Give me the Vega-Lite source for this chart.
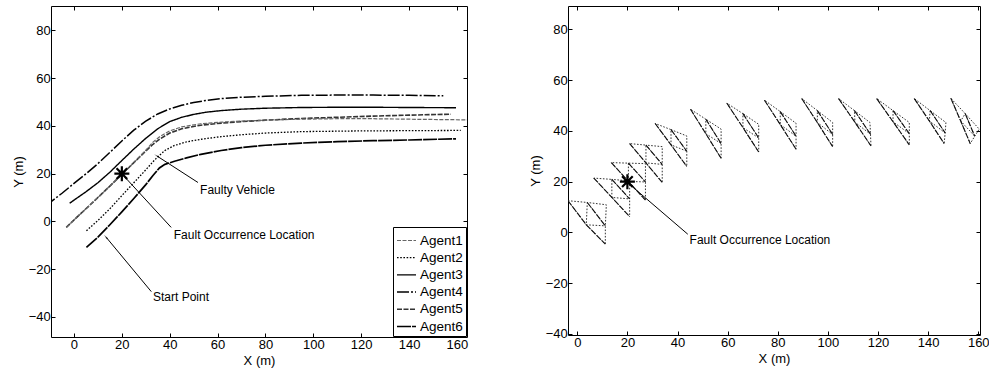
{
  "$schema": "https://vega.github.io/schema/vega-lite/v6.json",
  "autosize": {"type": "pad"},
  "padding": {"left": 11, "top": 5, "right": 0, "bottom": 0},
  "background": "white",
  "spacing": 101,
  "bounds": "flush",
  "resolve": {"legend": {"color": "independent", "strokeDash": "independent", "strokeWidth": "independent"}},
  "config": {
    "font": "Liberation Sans",
    "view": {"stroke": "#000", "strokeWidth": 1},
    "axis": {"grid": false, "domain": false, "ticks": true, "tickColor": "#000", "tickSize": -4, "labelFont": "Liberation Sans", "labelFontSize": 13, "labelColor": "#000", "labelFlush": false, "labelOverlap": false, "titleFont": "Liberation Sans", "titleFontSize": 13, "titleFontWeight": "normal", "titleColor": "#000"},
    "axisX": {"labelPadding": 5, "titlePadding": 3},
    "axisY": {"labelPadding": 4.7, "titlePadding": 3},
    "legend": {"strokeColor": "#000", "fillColor": "#fff", "padding": 3, "symbolType": "stroke", "symbolSize": 361, "labelFont": "Liberation Sans", "labelFontSize": 13.5, "labelColor": "#000", "rowPadding": 0.2, "labelOffset": 3}
  },
  "datasets": {
    "agents": [
      {"a":"Agent4","x":-12,"y":6.3},{"a":"Agent4","x":-10,"y":7.9},{"a":"Agent4","x":-5,"y":11.8},{"a":"Agent4","x":0,"y":15.9},{"a":"Agent4","x":5,"y":19.9},{"a":"Agent4","x":10,"y":24.2},{"a":"Agent4","x":15,"y":28.9},{"a":"Agent4","x":20,"y":33.7},{"a":"Agent4","x":25,"y":38.2},{"a":"Agent4","x":30,"y":42},{"a":"Agent4","x":35,"y":45},{"a":"Agent4","x":40,"y":47.1},{"a":"Agent4","x":45,"y":48.6},{"a":"Agent4","x":50,"y":49.8},{"a":"Agent4","x":55,"y":50.6},{"a":"Agent4","x":61.5,"y":51.4},{"a":"Agent4","x":70,"y":52},{"a":"Agent4","x":80,"y":52.4},{"a":"Agent4","x":95,"y":52.8},{"a":"Agent4","x":110,"y":52.9},{"a":"Agent4","x":125,"y":52.9},{"a":"Agent4","x":140,"y":52.8},{"a":"Agent4","x":154.3,"y":52.6},
      {"a":"Agent3","x":-1.8,"y":7.6},{"a":"Agent3","x":0,"y":8.9},{"a":"Agent3","x":5,"y":12.4},{"a":"Agent3","x":10,"y":16.2},{"a":"Agent3","x":15,"y":20.6},{"a":"Agent3","x":20,"y":25.5},{"a":"Agent3","x":25,"y":30.3},{"a":"Agent3","x":30,"y":34.8},{"a":"Agent3","x":35,"y":38.8},{"a":"Agent3","x":40,"y":41.8},{"a":"Agent3","x":45,"y":43.6},{"a":"Agent3","x":50,"y":44.8},{"a":"Agent3","x":55,"y":45.7},{"a":"Agent3","x":61.5,"y":46.4},{"a":"Agent3","x":70,"y":47},{"a":"Agent3","x":80,"y":47.4},{"a":"Agent3","x":95,"y":47.7},{"a":"Agent3","x":110,"y":47.8},{"a":"Agent3","x":125,"y":47.8},{"a":"Agent3","x":140,"y":47.7},{"a":"Agent3","x":159.6,"y":47.6},
      {"a":"Agent5","x":-3.2,"y":-2.5},{"a":"Agent5","x":0,"y":0.6},{"a":"Agent5","x":5,"y":5.3},{"a":"Agent5","x":10,"y":10},{"a":"Agent5","x":15,"y":14.8},{"a":"Agent5","x":20,"y":19.7},{"a":"Agent5","x":25,"y":24.6},{"a":"Agent5","x":30,"y":29.5},{"a":"Agent5","x":33,"y":32.3},{"a":"Agent5","x":36,"y":34.6},{"a":"Agent5","x":40,"y":37},{"a":"Agent5","x":45,"y":38.8},{"a":"Agent5","x":53,"y":40.3},{"a":"Agent5","x":62,"y":41.2},{"a":"Agent5","x":70,"y":41.8},{"a":"Agent5","x":80,"y":42.4},{"a":"Agent5","x":95,"y":43.1},{"a":"Agent5","x":110,"y":43.6},{"a":"Agent5","x":125,"y":44.1},{"a":"Agent5","x":140,"y":44.5},{"a":"Agent5","x":157.5,"y":44.9},
      {"a":"Agent1","x":-3.2,"y":-2.5},{"a":"Agent1","x":0,"y":0.6},{"a":"Agent1","x":5,"y":5.3},{"a":"Agent1","x":10,"y":10},{"a":"Agent1","x":15,"y":14.8},{"a":"Agent1","x":20,"y":19.7},{"a":"Agent1","x":25,"y":24.6},{"a":"Agent1","x":30,"y":29.8},{"a":"Agent1","x":33,"y":33.2},{"a":"Agent1","x":36,"y":35.6},{"a":"Agent1","x":40,"y":37.9},{"a":"Agent1","x":45,"y":39.6},{"a":"Agent1","x":53,"y":40.9},{"a":"Agent1","x":62,"y":41.6},{"a":"Agent1","x":70,"y":42},{"a":"Agent1","x":80,"y":42.4},{"a":"Agent1","x":95,"y":42.8},{"a":"Agent1","x":110,"y":43},{"a":"Agent1","x":125,"y":43},{"a":"Agent1","x":140,"y":42.8},{"a":"Agent1","x":166,"y":42.5},
      {"a":"Agent2","x":5.2,"y":-3.9},{"a":"Agent2","x":10,"y":0.4},{"a":"Agent2","x":15,"y":5.3},{"a":"Agent2","x":20,"y":10.8},{"a":"Agent2","x":25,"y":16.2},{"a":"Agent2","x":30,"y":21.6},{"a":"Agent2","x":33,"y":25},{"a":"Agent2","x":35.5,"y":27.5},{"a":"Agent2","x":38,"y":29.7},{"a":"Agent2","x":42,"y":31.8},{"a":"Agent2","x":47,"y":33.3},{"a":"Agent2","x":53,"y":34.4},{"a":"Agent2","x":61.5,"y":35.5},{"a":"Agent2","x":70,"y":36.3},{"a":"Agent2","x":80,"y":37},{"a":"Agent2","x":95,"y":37.6},{"a":"Agent2","x":120,"y":37.9},{"a":"Agent2","x":140,"y":38},{"a":"Agent2","x":161.6,"y":38.1},
      {"a":"Agent6","x":5.2,"y":-10.9},{"a":"Agent6","x":10,"y":-6.6},{"a":"Agent6","x":15,"y":-1.4},{"a":"Agent6","x":20,"y":4},{"a":"Agent6","x":25,"y":9.6},{"a":"Agent6","x":30,"y":15.4},{"a":"Agent6","x":33,"y":19.2},{"a":"Agent6","x":35.7,"y":22.4},{"a":"Agent6","x":38,"y":23.9},{"a":"Agent6","x":42,"y":25.2},{"a":"Agent6","x":47,"y":26.6},{"a":"Agent6","x":53,"y":28.1},{"a":"Agent6","x":61.5,"y":29.7},{"a":"Agent6","x":70,"y":30.9},{"a":"Agent6","x":80,"y":31.9},{"a":"Agent6","x":95,"y":32.8},{"a":"Agent6","x":110,"y":33.4},{"a":"Agent6","x":125,"y":33.8},{"a":"Agent6","x":140,"y":34.1},{"a":"Agent6","x":159.6,"y":34.6}
    ],
    "forms": [
      {"f":1,"k":0,"x":-3.7,"y":12.5},{"f":1,"k":1,"x":3.6,"y":3.0},{"f":1,"k":2,"x":11.2,"y":-4.6},{"f":1,"k":3,"x":11.2,"y":2.6},{"f":1,"k":4,"x":11.6,"y":10.9},{"f":1,"k":5,"x":4.0,"y":11.8},{"f":1,"k":6,"x":11.2,"y":2.6},{"f":1,"k":7,"x":3.6,"y":3.0},{"f":1,"k":8,"x":4.0,"y":11.8},{"f":1,"k":9,"x":-3.7,"y":12.5},
      {"f":2,"k":0,"x":6.6,"y":21.4},{"f":2,"k":1,"x":13.8,"y":13.8},{"f":2,"k":2,"x":20.9,"y":6.2},{"f":2,"k":3,"x":20.9,"y":13.2},{"f":2,"k":4,"x":20.9,"y":20.3},{"f":2,"k":5,"x":13.8,"y":20.9},{"f":2,"k":6,"x":20.9,"y":13.2},{"f":2,"k":7,"x":13.8,"y":13.8},{"f":2,"k":8,"x":13.8,"y":20.9},{"f":2,"k":9,"x":6.6,"y":21.4},
      {"f":3,"k":0,"x":13.6,"y":27.5},{"f":3,"k":1,"x":20.4,"y":20.1},{"f":3,"k":2,"x":27.2,"y":12.7},{"f":3,"k":3,"x":27.2,"y":19.9},{"f":3,"k":4,"x":27.2,"y":27.1},{"f":3,"k":5,"x":20.4,"y":27.3},{"f":3,"k":6,"x":27.2,"y":19.9},{"f":3,"k":7,"x":20.4,"y":20.1},{"f":3,"k":8,"x":20.4,"y":27.3},{"f":3,"k":9,"x":13.6,"y":27.5},
      {"f":4,"k":0,"x":20.9,"y":35.0},{"f":4,"k":1,"x":27.4,"y":27.4},{"f":4,"k":2,"x":33.9,"y":19.7},{"f":4,"k":3,"x":33.9,"y":26.8},{"f":4,"k":4,"x":33.9,"y":33.8},{"f":4,"k":5,"x":27.4,"y":34.4},{"f":4,"k":6,"x":33.9,"y":26.8},{"f":4,"k":7,"x":27.4,"y":27.4},{"f":4,"k":8,"x":27.4,"y":34.4},{"f":4,"k":9,"x":20.9,"y":35.0},
      {"f":5,"k":0,"x":31.1,"y":42.9},{"f":5,"k":1,"x":37.4,"y":34.5},{"f":5,"k":2,"x":43.7,"y":26.0},{"f":5,"k":3,"x":43.7,"y":32.0},{"f":5,"k":4,"x":43.7,"y":38.0},{"f":5,"k":5,"x":37.4,"y":40.5},{"f":5,"k":6,"x":43.7,"y":32.0},{"f":5,"k":7,"x":37.4,"y":34.5},{"f":5,"k":8,"x":37.4,"y":40.5},{"f":5,"k":9,"x":31.1,"y":42.9},
      {"f":6,"k":0,"x":45.2,"y":48.5},{"f":6,"k":1,"x":51.3,"y":38.9},{"f":6,"k":2,"x":57.4,"y":29.2},{"f":6,"k":3,"x":57.4,"y":35.0},{"f":6,"k":4,"x":57.4,"y":40.7},{"f":6,"k":5,"x":51.3,"y":44.6},{"f":6,"k":6,"x":57.4,"y":35.0},{"f":6,"k":7,"x":51.3,"y":38.9},{"f":6,"k":8,"x":51.3,"y":44.6},{"f":6,"k":9,"x":45.2,"y":48.5},
      {"f":7,"k":0,"x":59.7,"y":50.9},{"f":7,"k":1,"x":66.1,"y":41.3},{"f":7,"k":2,"x":72.4,"y":31.7},{"f":7,"k":3,"x":72.4,"y":37.2},{"f":7,"k":4,"x":72.4,"y":42.6},{"f":7,"k":5,"x":66.1,"y":46.8},{"f":7,"k":6,"x":72.4,"y":37.2},{"f":7,"k":7,"x":66.1,"y":41.3},{"f":7,"k":8,"x":66.1,"y":46.8},{"f":7,"k":9,"x":59.7,"y":50.9},
      {"f":8,"k":0,"x":74.7,"y":52.1},{"f":8,"k":1,"x":81.0,"y":42.5},{"f":8,"k":2,"x":87.3,"y":32.8},{"f":8,"k":3,"x":87.3,"y":37.9},{"f":8,"k":4,"x":87.3,"y":43.0},{"f":8,"k":5,"x":81.0,"y":47.6},{"f":8,"k":6,"x":87.3,"y":37.9},{"f":8,"k":7,"x":81.0,"y":42.5},{"f":8,"k":8,"x":81.0,"y":47.6},{"f":8,"k":9,"x":74.7,"y":52.1},
      {"f":9,"k":0,"x":89.6,"y":52.7},{"f":9,"k":1,"x":95.8,"y":43.3},{"f":9,"k":2,"x":101.9,"y":33.8},{"f":9,"k":3,"x":101.9,"y":38.6},{"f":9,"k":4,"x":101.9,"y":43.3},{"f":9,"k":5,"x":95.8,"y":48.0},{"f":9,"k":6,"x":101.9,"y":38.6},{"f":9,"k":7,"x":95.8,"y":43.3},{"f":9,"k":8,"x":95.8,"y":48.0},{"f":9,"k":9,"x":89.6,"y":52.7},
      {"f":10,"k":0,"x":104.3,"y":52.7},{"f":10,"k":1,"x":110.8,"y":43.4},{"f":10,"k":2,"x":117.2,"y":34.1},{"f":10,"k":3,"x":117.0,"y":38.7},{"f":10,"k":4,"x":116.8,"y":43.3},{"f":10,"k":5,"x":110.6,"y":48.0},{"f":10,"k":6,"x":117.0,"y":38.7},{"f":10,"k":7,"x":110.8,"y":43.4},{"f":10,"k":8,"x":110.6,"y":48.0},{"f":10,"k":9,"x":104.3,"y":52.7},
      {"f":11,"k":0,"x":119.5,"y":52.7},{"f":11,"k":1,"x":126.0,"y":43.6},{"f":11,"k":2,"x":132.5,"y":34.5},{"f":11,"k":3,"x":132.5,"y":38.9},{"f":11,"k":4,"x":132.5,"y":43.3},{"f":11,"k":5,"x":126.0,"y":48.0},{"f":11,"k":6,"x":132.5,"y":38.9},{"f":11,"k":7,"x":126.0,"y":43.6},{"f":11,"k":8,"x":126.0,"y":48.0},{"f":11,"k":9,"x":119.5,"y":52.7},
      {"f":12,"k":0,"x":134.5,"y":52.7},{"f":12,"k":1,"x":140.5,"y":43.9},{"f":12,"k":2,"x":146.4,"y":35.0},{"f":12,"k":3,"x":146.8,"y":39.2},{"f":12,"k":4,"x":147.1,"y":43.3},{"f":12,"k":5,"x":140.8,"y":48.0},{"f":12,"k":6,"x":146.8,"y":39.2},{"f":12,"k":7,"x":140.5,"y":43.9},{"f":12,"k":8,"x":140.8,"y":48.0},{"f":12,"k":9,"x":134.5,"y":52.7},
      {"f":13,"k":0,"x":149.1,"y":52.8},{"f":13,"k":1,"x":153.0,"y":43.9},{"f":13,"k":2,"x":156.8,"y":35.0},{"f":13,"k":3,"x":158.6,"y":37.9},{"f":13,"k":4,"x":160.4,"y":40.7},{"f":13,"k":5,"x":154.8,"y":46.8},{"f":13,"k":6,"x":158.6,"y":37.9},{"f":13,"k":7,"x":153.0,"y":43.9},{"f":13,"k":8,"x":154.8,"y":46.8},{"f":13,"k":9,"x":149.1,"y":52.8}
    ],
    "stars": [{"x": 20, "y": 20}],
    "notes": [
      {"p":"L","h":"fv","x0":34.8,"y0":27.3,"x1":51.8,"y1":16.3,"tx":52.7,"ty":13.2,"label":"Faulty Vehicle"},
      {"p":"L","h":"fo","x0":21.5,"y0":18.3,"x1":40.6,"y1":-2.5,"tx":41.7,"ty":-5.7,"label":"Fault Occurrence Location"},
      {"p":"L","h":"sp","x0":13.5,"y0":-6.7,"x1":32.3,"y1":-29.4,"tx":33,"ty":-31.7,"label":"Start Point"},
      {"p":"R","h":"fr","x0":21.3,"y0":18.6,"x1":44.1,"y1":-0.7,"tx":44.8,"ty":-3.0,"label":"Fault Occurrence Location"}
    ]
  },
  "hconcat": [
    {
      "width": 416,
      "height": 331,
      "resolve": {"axis": {"x": "independent", "y": "independent"}},
      "layer": [
        {
          "data": {"name": "agents"},
          "mark": {"type": "line", "clip": true, "strokeCap": "butt"},
          "encoding": {
            "x": {"field": "x", "type": "quantitative", "scale": {"domain": [-9.6, 164.2], "nice": false, "zero": false}, "axis": {"values": [0,20,40,60,80,100,120,140,160], "title": "X (m)"}},
            "y": {"field": "y", "type": "quantitative", "scale": {"domain": [-48.4, 90.2], "nice": false, "zero": false}, "axis": {"values": [-40,-20,0,20,40,60,80], "title": "Y (m)"}},
            "color": {"field": "a", "type": "nominal", "scale": {"domain": ["Agent1","Agent2","Agent3","Agent4","Agent5","Agent6"], "range": ["#666666","#000000","#000000","#000000","#333333","#000000"]}, "legend": {"title": null, "orient": "bottom-right", "offset": 1}},
            "strokeDash": {"field": "a", "type": "nominal", "scale": {"domain": ["Agent1","Agent2","Agent3","Agent4","Agent5","Agent6"], "range": [[4,1.5],[1.6,1.6],[1,0],[12,2,2,2],[5,1.5],[14,1]]}, "legend": {"title": null, "orient": "bottom-right", "offset": 1}},
            "strokeWidth": {"field": "a", "type": "nominal", "scale": {"domain": ["Agent1","Agent2","Agent3","Agent4","Agent5","Agent6"], "range": [1.2, 1.7, 2.2, 1.8, 1.7, 1.8]}, "legend": {"title": null, "orient": "bottom-right", "offset": 1}}
          }
        },
        {
          "data": {"name": "notes"},
          "transform": [{"filter": "datum.p == 'L'"}],
          "mark": {"type": "rule", "color": "#000", "strokeWidth": 1},
          "encoding": {
            "x": {"field": "x0", "type": "quantitative", "scale": {"domain": [-9.6, 164.2], "nice": false, "zero": false}, "axis": null},
            "y": {"field": "y0", "type": "quantitative", "scale": {"domain": [-48.4, 90.2], "nice": false, "zero": false}, "axis": null},
            "x2": {"field": "x1"},
            "y2": {"field": "y1"}
          }
        },
        {
          "data": {"name": "notes"},
          "transform": [{"filter": "datum.h == 'fv'"}],
          "mark": {"type": "point", "shape": "wedge", "filled": true, "color": "#000", "size": 40, "angle": 303},
          "encoding": {
            "x": {"field": "x0", "type": "quantitative", "scale": {"domain": [-9.6, 164.2], "nice": false, "zero": false}, "axis": null},
            "y": {"field": "y0", "type": "quantitative", "scale": {"domain": [-48.4, 90.2], "nice": false, "zero": false}, "axis": null}
          }
        },
        {
          "data": {"name": "notes"},
          "transform": [{"filter": "datum.h == 'fo'"}],
          "mark": {"type": "point", "shape": "wedge", "filled": true, "color": "#000", "size": 40, "angle": 317.6},
          "encoding": {
            "x": {"field": "x0", "type": "quantitative", "scale": {"domain": [-9.6, 164.2], "nice": false, "zero": false}, "axis": null},
            "y": {"field": "y0", "type": "quantitative", "scale": {"domain": [-48.4, 90.2], "nice": false, "zero": false}, "axis": null}
          }
        },
        {
          "data": {"name": "notes"},
          "transform": [{"filter": "datum.h == 'sp'"}],
          "mark": {"type": "point", "shape": "wedge", "filled": true, "color": "#000", "size": 40, "angle": 319.6},
          "encoding": {
            "x": {"field": "x0", "type": "quantitative", "scale": {"domain": [-9.6, 164.2], "nice": false, "zero": false}, "axis": null},
            "y": {"field": "y0", "type": "quantitative", "scale": {"domain": [-48.4, 90.2], "nice": false, "zero": false}, "axis": null}
          }
        },
        {
          "data": {"name": "notes"},
          "transform": [{"filter": "datum.p == 'L'"}],
          "mark": {"type": "text", "align": "left", "baseline": "middle", "font": "Liberation Sans", "fontSize": 12, "color": "#000"},
          "encoding": {
            "x": {"field": "tx", "type": "quantitative", "scale": {"domain": [-9.6, 164.2], "nice": false, "zero": false}, "axis": null},
            "y": {"field": "ty", "type": "quantitative", "scale": {"domain": [-48.4, 90.2], "nice": false, "zero": false}, "axis": null},
            "text": {"field": "label"}
          }
        },
        {
          "data": {"name": "stars"},
          "mark": {"type": "point", "shape": "M-1,0L1,0M0,-1L0,1M-0.71,-0.71L0.71,0.71M-0.71,0.71L0.71,-0.71", "filled": false, "color": "#000", "strokeWidth": 2.2, "size": 225, "opacity": 1},
          "encoding": {
            "x": {"field": "x", "type": "quantitative", "scale": {"domain": [-9.6, 164.2], "nice": false, "zero": false}, "axis": {"orient": "top", "values": [0,20,40,60,80,100,120,140,160], "labels": false, "title": null}},
            "y": {"field": "y", "type": "quantitative", "scale": {"domain": [-48.4, 90.2], "nice": false, "zero": false}, "axis": {"orient": "right", "values": [-40,-20,0,20,40,60,80], "labels": false, "title": null}}
          }
        }
      ]
    },
    {
      "width": 412,
      "height": 329,
      "resolve": {"axis": {"x": "independent", "y": "independent"}},
      "layer": [
        {
          "data": {"name": "forms"},
          "mark": {"type": "line", "clip": true, "color": "#333", "strokeWidth": 1, "strokeDash": [1.6, 1.6]},
          "encoding": {
            "x": {"field": "x", "type": "quantitative", "scale": {"domain": [-3.7, 160.7], "nice": false, "zero": false}, "axis": {"values": [0,20,40,60,80,100,120,140,160], "title": "X (m)"}},
            "y": {"field": "y", "type": "quantitative", "scale": {"domain": [-40.4, 89.2], "nice": false, "zero": false}, "axis": {"values": [-40,-20,0,20,40,60,80], "title": "Y (m)"}},
            "detail": {"field": "f", "type": "nominal"},
            "order": {"field": "k", "type": "quantitative"}
          }
        },
        {
          "data": {"name": "forms"},
          "transform": [{"filter": "datum.k <= 2"}],
          "mark": {"type": "line", "clip": true, "color": "#111", "strokeWidth": 1.1, "strokeDash": [6, 1.5]},
          "encoding": {
            "x": {"field": "x", "type": "quantitative", "scale": {"domain": [-3.7, 160.7], "nice": false, "zero": false}, "axis": null},
            "y": {"field": "y", "type": "quantitative", "scale": {"domain": [-40.4, 89.2], "nice": false, "zero": false}, "axis": null},
            "detail": {"field": "f", "type": "nominal"},
            "order": {"field": "k", "type": "quantitative"}
          }
        },
        {
          "data": {"name": "forms"},
          "transform": [{"filter": "datum.k == 5 || datum.k == 6"}],
          "mark": {"type": "line", "clip": true, "color": "#111", "strokeWidth": 1.1, "strokeDash": [6, 1.5]},
          "encoding": {
            "x": {"field": "x", "type": "quantitative", "scale": {"domain": [-3.7, 160.7], "nice": false, "zero": false}, "axis": null},
            "y": {"field": "y", "type": "quantitative", "scale": {"domain": [-40.4, 89.2], "nice": false, "zero": false}, "axis": null},
            "detail": {"field": "f", "type": "nominal"},
            "order": {"field": "k", "type": "quantitative"}
          }
        },
        {
          "data": {"name": "notes"},
          "transform": [{"filter": "datum.p == 'R'"}],
          "mark": {"type": "rule", "color": "#000", "strokeWidth": 1},
          "encoding": {
            "x": {"field": "x0", "type": "quantitative", "scale": {"domain": [-3.7, 160.7], "nice": false, "zero": false}, "axis": null},
            "y": {"field": "y0", "type": "quantitative", "scale": {"domain": [-40.4, 89.2], "nice": false, "zero": false}, "axis": null},
            "x2": {"field": "x1"},
            "y2": {"field": "y1"}
          }
        },
        {
          "data": {"name": "notes"},
          "transform": [{"filter": "datum.h == 'fr'"}],
          "mark": {"type": "point", "shape": "wedge", "filled": true, "color": "#000", "size": 40, "angle": 310.7},
          "encoding": {
            "x": {"field": "x0", "type": "quantitative", "scale": {"domain": [-3.7, 160.7], "nice": false, "zero": false}, "axis": null},
            "y": {"field": "y0", "type": "quantitative", "scale": {"domain": [-40.4, 89.2], "nice": false, "zero": false}, "axis": null}
          }
        },
        {
          "data": {"name": "notes"},
          "transform": [{"filter": "datum.p == 'R'"}],
          "mark": {"type": "text", "align": "left", "baseline": "middle", "font": "Liberation Sans", "fontSize": 12, "color": "#000"},
          "encoding": {
            "x": {"field": "tx", "type": "quantitative", "scale": {"domain": [-3.7, 160.7], "nice": false, "zero": false}, "axis": null},
            "y": {"field": "ty", "type": "quantitative", "scale": {"domain": [-40.4, 89.2], "nice": false, "zero": false}, "axis": null},
            "text": {"field": "label"}
          }
        },
        {
          "data": {"name": "stars"},
          "mark": {"type": "point", "shape": "M-1,0L1,0M0,-1L0,1M-0.71,-0.71L0.71,0.71M-0.71,0.71L0.71,-0.71", "filled": false, "color": "#000", "strokeWidth": 2.2, "size": 225, "opacity": 1},
          "encoding": {
            "x": {"field": "x", "type": "quantitative", "scale": {"domain": [-3.7, 160.7], "nice": false, "zero": false}, "axis": {"orient": "top", "values": [0,20,40,60,80,100,120,140,160], "labels": false, "title": null}},
            "y": {"field": "y", "type": "quantitative", "scale": {"domain": [-40.4, 89.2], "nice": false, "zero": false}, "axis": {"orient": "right", "values": [-40,-20,0,20,40,60,80], "labels": false, "title": null}}
          }
        }
      ]
    }
  ]
}
